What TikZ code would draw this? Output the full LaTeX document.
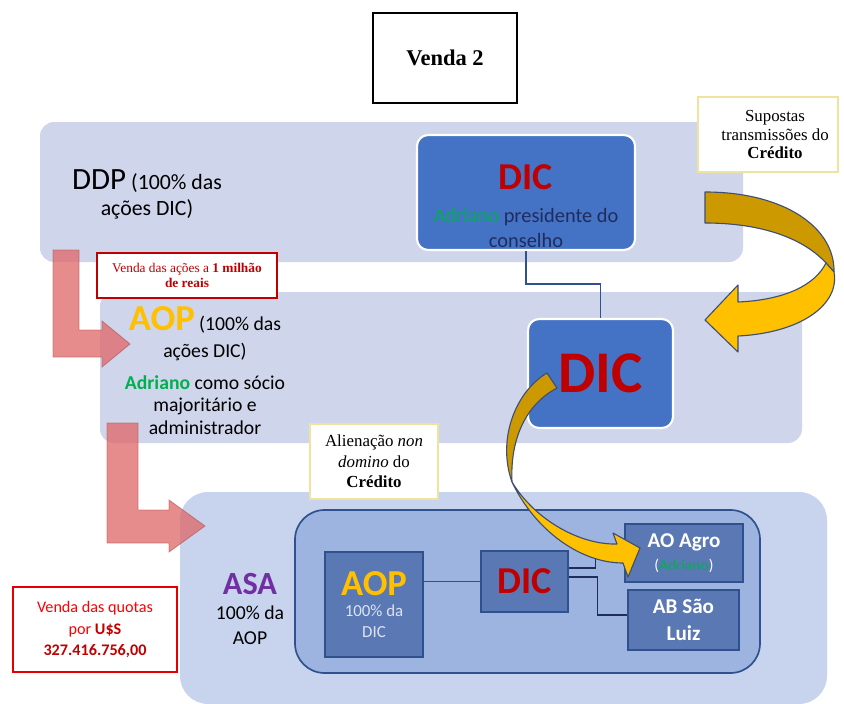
\documentclass[tikz,border=0pt]{standalone}
\usepackage{fontspec}
\setmainfont{Carlito}
\newfontfamily\timesfont{Liberation Serif}
\usepackage{tikz}
\usetikzlibrary{calc}
\definecolor{band}{HTML}{CFD5EA}
\definecolor{bandlow}{HTML}{C8D4EE}
\definecolor{dicblue}{HTML}{4472C4}
\definecolor{inner}{HTML}{9DB3E0}
\definecolor{innerline}{HTML}{2F528F}
\definecolor{cell}{HTML}{5A78B4}
\definecolor{dicred}{HTML}{C00000}
\definecolor{gold}{HTML}{FFC000}
\definecolor{darkgold}{HTML}{CC9A00}
\definecolor{rimblue}{HTML}{3E4F73}
\definecolor{adgreen}{HTML}{00B050}
\definecolor{navy}{HTML}{1F2D5C}
\definecolor{pinkred}{HTML}{E06666}
\definecolor{purp}{HTML}{7030A0}
\definecolor{cream}{HTML}{EFE3A0}
\definecolor{paleink}{HTML}{DCE4F2}
\newcommand{\fsz}[2]{\fontsize{#1}{#2}\selectfont}

\begin{document}
\begin{tikzpicture}[x=0.025cm, y=-0.025cm,
  dicbox/.style={fill=dicblue, draw=white, line width=1.5pt, rounded corners=8pt},
  cellbox/.style={fill=cell, draw=innerline, line width=0.9pt},
  note/.style={fill=white, draw=cream, line width=1pt, align=center},
  ribbon/.style={draw=rimblue, line width=0.8pt, line join=round},
  bent/.style={fill=pinkred, fill opacity=0.75, draw=pinkred!80!black, draw opacity=0.6, line width=0.6pt}]
  \fill[white] (0,0) rectangle (844,704);
  \useasboundingbox (0,0) rectangle (844,704);

  \fill[band, rounded corners=10pt] (40,122) rectangle (743,262);
  \fill[band, rounded corners=10pt] (100,292) rectangle (802,443);
  \fill[bandlow, rounded corners=20pt] (180,492) rectangle (827,704);

  \filldraw[bent] (53,250) -- (79,250) -- (79,330) -- (102,330) -- (102,321) -- (130,344)
    -- (102,367) -- (102,357) -- (53,357) -- cycle;
  \filldraw[bent] (107,423) -- (138,423) -- (138,510) -- (169,510) -- (169,500) -- (205,526)
    -- (169,552) -- (169,543) -- (107,543) -- cycle;

  \node[draw, line width=1.2pt, minimum width=3.6cm, minimum height=2.25cm,
    font=\timesfont\bfseries\fsz{16}{19}] (title) at (445,58) {Venda 2};

  \node[align=center, font=\fsz{15.5}{18.5}] (ddp) at (147,194)
    {{\fsz{22}{20}DDP} (100\% das\\ações DIC)};

  \node[dicbox, minimum width=5.45cm, minimum height=2.875cm] (dic1) at (526,192.5) {};
  \node[anchor=base, text=dicred, font=\bfseries\fsz{27}{30}] (dic1name) at (526,189) {DIC};
  \node[align=center, text=navy, font=\fsz{14.5}{17.5}] (dic1role) at (526,228)
    {\textcolor{adgreen}{Adriano} presidente do\\conselho};

  \node[note, minimum width=3.5cm, minimum height=1.875cm, font=\timesfont\fsz{12}{13.5}]
    (supost) at (768,134.5) {\hspace*{10pt}Supostas\\\hspace*{10pt}transmissões do\\\hspace*{10pt}\textbf{Crédito}};

  \node[fill=white, draw=dicred, line width=0.9pt, minimum width=4.5cm, minimum height=1.125cm,
    align=center, text=dicred, font=\timesfont\fsz{9.5}{11}] (sale1) at (187,275.5)
    {Venda das ações a \textbf{1 milhão}\\\textbf{de reais}};

  \node[align=center, font=\fsz{14}{19}] (aoptxt) at (205,334)
    {{\bfseries\fsz{26}{26}\textcolor{gold}{AOP}} (100\% das\\ações DIC)};
  \node[align=center, font=\fsz{14}{16}] (adriano) at (205,405)
    {\textcolor{adgreen}{\bfseries Adriano} como sócio\\majoritário e\\administrador};

  \node[dicbox, minimum width=3.625cm, minimum height=2.725cm, text=dicred,
    font=\bfseries\fsz{42}{42}] (dic2) at (600.5,373.5) {DIC};
  \draw[innerline, line width=1pt] (dic1.south) -- ++(0,33) -| (dic2.north);

  \node[note, minimum width=3.2cm, minimum height=1.875cm, font=\timesfont\fsz{12}{14.5}]
    (alien) at (374,461.5) {Alienação \textit{non}\\\textit{domino} do\\\textbf{Crédito}};

  \filldraw[fill=inner, draw=innerline, line width=1.2pt, rounded corners=21pt]
    (295,510) rectangle (760,673);

  \node[align=center, font=\fsz{14}{18}] (asa) at (250,609)
    {{\bfseries\fsz{23}{26}\textcolor{purp}{ASA}}\\100\% da\\AOP};

  \node[cellbox, minimum width=2.45cm, minimum height=2.625cm, align=center, text=paleink,
    font=\fsz{12}{15}] (aopin) at (374,604.5)
    {{\bfseries\fsz{26}{26}\textcolor{gold}{AOP}}\\100\% da\\DIC};
  \node[cellbox, minimum width=2.175cm, minimum height=1.525cm, text=dicred,
    font=\bfseries\fsz{27}{27}] (dicin) at (524.5,581.5) {DIC};
  \node[cellbox, minimum width=2.95cm, minimum height=1.45cm, align=center, text=white,
    font=\bfseries\fsz{15}{16}] (agro) at (684,553)
    {AO Agro\\{\mdseries\fsz{11}{12}(\textcolor{adgreen}{Adriano})}};
  \node[cellbox, minimum width=2.775cm, minimum height=1.5cm, align=center, text=white,
    font=\bfseries\fsz{15}{19}] (luiz) at (683.5,620) {AB São\\Luiz};

  \draw[innerline, line width=1.2pt] (aopin.east |- dicin.west) -- (dicin.west);
  \draw[navy, line width=1.2pt] ($(dicin.east)+(0,-13.5)$) -- ++(27,0) |- ($(agro.west)+(0,-8)$);
  \draw[navy, line width=1.2pt] ($(dicin.east)+(0,-4.5)$) -- ++(29,0) |- ($(luiz.west)+(0,-5)$);

  \node[fill=white, draw=red!90!black, line width=2pt, minimum width=4.1cm, minimum height=2.125cm,
    align=center, text=red, font=\fsz{11.5}{15.5}] (quotas) at (95,629.5)
    {Venda das quotas\\por \textcolor{dicred}{\textbf{U\$S}}\\\textcolor{dicred}{\textbf{327.416.756,00}}};

  \filldraw[ribbon, fill=darkgold] (705,192) .. controls (785,192) and (835,228) .. (834,272)
    -- (826,263) .. controls (805,240) and (765,223) .. (705,223) -- cycle;
  \filldraw[ribbon, fill=gold] (826,263) -- (834,272) .. controls (840,305) and (800,333) .. (738,336)
    -- (738,352) -- (705,320) -- (738,285) -- (738,302) .. controls (785,300) and (815,285) .. (826,263) -- cycle;
  \filldraw[ribbon, fill=darkgold] (547,373) .. controls (515,392) and (497,440) .. (512,482)
    .. controls (510,440) and (525,405) .. (557,388) -- cycle;
  \filldraw[ribbon, fill=gold] (512,482) .. controls (535,530) and (580,563) .. (623,563)
    -- (628,577) -- (640,548) -- (613,533) -- (617,544) .. controls (580,545) and (535,520) .. (512,482) -- cycle;
\end{tikzpicture}
\end{document}
